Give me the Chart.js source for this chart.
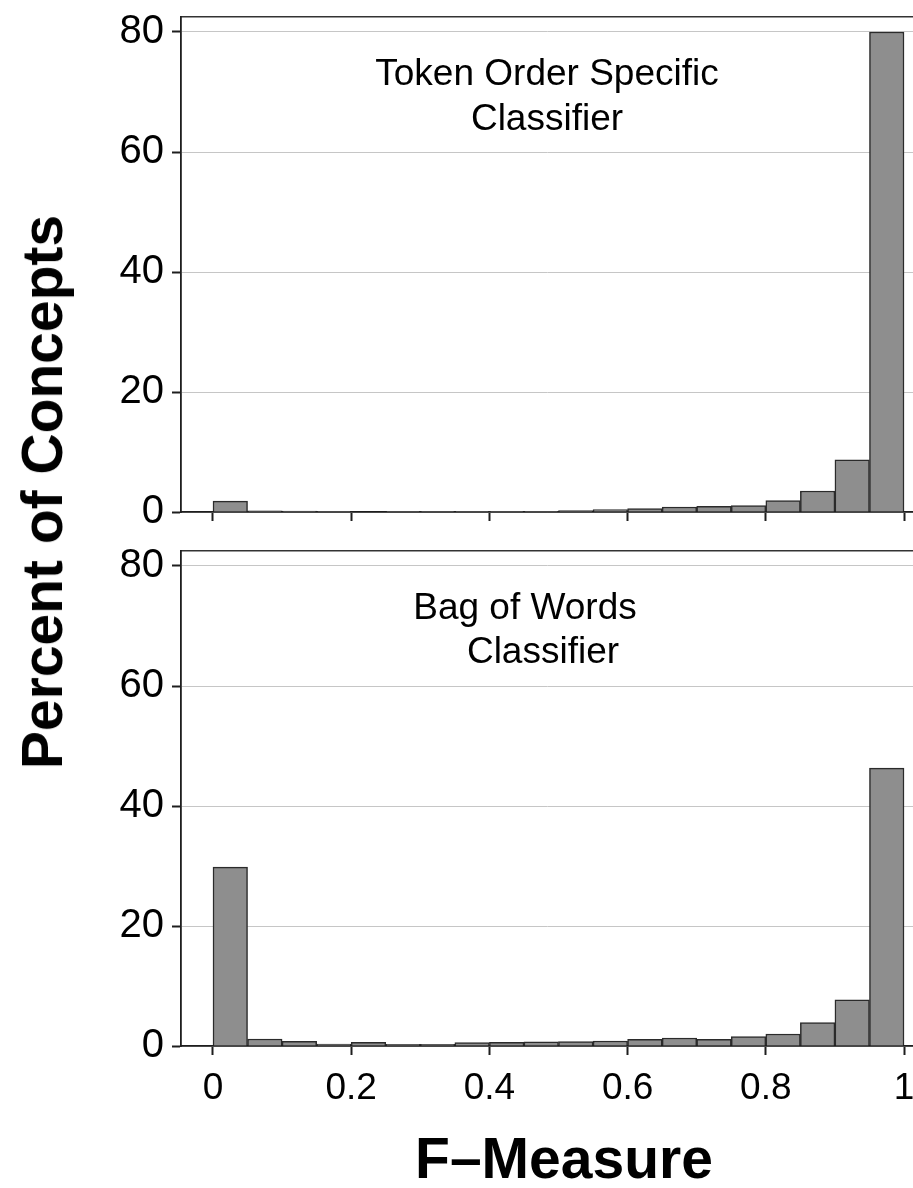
<!DOCTYPE html>
<html>
<head>
<meta charset="utf-8">
<script src="https://cdn.jsdelivr.net/npm/chart.js@4/dist/chart.umd.min.js"></script>
<style>
  html, body { margin: 0; padding: 0; background: #fff; }
  #wrap { position: relative; width: 913px; height: 1188px; overflow: hidden;
          font-family: "Liberation Sans", Arial, Helvetica, sans-serif; color: #000; }
  canvas { position: absolute; left: 0; }
  .cap { position: absolute; font-size: 37px; white-space: nowrap; transform: translate(-50%, -50%); }
  .axtitle { position: absolute; font-size: 57px; font-weight: bold; white-space: nowrap; transform: translate(-50%, -50%); }
</style>
</head>
<body>
<div id="wrap">
  <canvas id="topPanel" width="913" height="530" style="top:0"></canvas>
  <canvas id="bottomPanel" width="913" height="654" style="top:534px"></canvas>

  <div class="cap" style="left:547px; top:73px">Token Order Specific</div>
  <div class="cap" style="left:547px; top:118px">Classifier</div>
  <div class="cap" style="left:525px; top:607px">Bag of Words</div>
  <div class="cap" style="left:543px; top:651px">Classifier</div>

  <div class="axtitle" style="left:42px; top:492px; transform: translate(-50%, -50%) rotate(-90deg)">Percent of Concepts</div>
  <div class="axtitle" style="left:564px; top:1158px">F&#8211;Measure</div>
</div>

<script>
// histogram bins of width 0.05 over the F-measure range, given by their centres
const binCenters = [0.025, 0.075, 0.125, 0.175, 0.225, 0.275, 0.325, 0.375, 0.425, 0.475,
                    0.525, 0.575, 0.625, 0.675, 0.725, 0.775, 0.825, 0.875, 0.925, 0.975];

// percent of concepts per bin
const tokenOrderPct = [1.8, 0.2, 0.15, 0.05, 0, 0.03, 0.02, 0.03, 0.05, 0.1,
                       0.23, 0.4, 0.57, 0.83, 0.95, 1.07, 1.9, 3.5, 8.7, 80];
const bagOfWordsPct = [29.8, 1.17, 0.78, 0.33, 0.6, 0.28, 0.28, 0.55, 0.6, 0.7,
                       0.72, 0.83, 1.1, 1.33, 1.1, 1.56, 2.0, 3.9, 7.7, 46.3];

const xTicks = [0, 0.2, 0.4, 0.6, 0.8, 1];
const yTicks = [0, 20, 40, 60, 80];

const X_MIN = -0.0463, X_MAX = 1.013;
const Y_MAX = 82.5;
const AXIS = "#1e1e1e";
const FONT = "'Liberation Sans', Arial, Helvetica, sans-serif";

function makePanel(canvasId, values, showXLabels, xAxisHeight) {
  const ctx = document.getElementById(canvasId).getContext("2d");
  return new Chart(ctx, {
    type: "bar",
    data: {
      datasets: [{
        data: binCenters.map((x, i) => ({ x: x, y: values[i] })),
        backgroundColor: "#8e8e8e",
        borderColor: "#2b2b2b",
        borderWidth: 1.5,
        barPercentage: 1,
        categoryPercentage: 1
      }]
    },
    options: {
      responsive: false,
      animation: false,
      layout: { padding: { top: 17, left: 0, right: 0, bottom: 0 } },
      plugins: { legend: { display: false }, tooltip: { enabled: false } },
      scales: {
        x: {
          type: "linear",
          min: X_MIN,
          max: X_MAX,
          offset: false,
          afterBuildTicks: (s) => { s.ticks = xTicks.map((v) => ({ value: v })); },
          afterFit: (s) => {
            s.height = xAxisHeight;
            s.paddingLeft = 0; s.paddingRight = 0;
          },
          grid: { drawOnChartArea: false, tickLength: 9, tickColor: AXIS, tickWidth: 2, offset: false },
          border: { color: AXIS, width: 1.8 },
          ticks: {
            display: showXLabels,
            padding: 12,
            color: "#000",
            font: { family: FONT, size: 37 },
            maxRotation: 0,
            callback: (v) => String(v)
          }
        },
        xTop: {
          type: "linear",
          position: "top",
          min: X_MIN,
          max: X_MAX,
          afterFit: (s) => { s.height = 0; s.paddingLeft = 0; s.paddingRight = 0; },
          grid: { display: false, drawTicks: false },
          border: { display: true, color: "#333", width: 1.5 },
          ticks: { display: false }
        },
        y: {
          min: 0,
          max: Y_MAX,
          afterBuildTicks: (s) => { s.ticks = yTicks.map((v) => ({ value: v })); },
          afterFit: (s) => {
            s.width = 181;
            s.paddingTop = 0; s.paddingBottom = 0;
          },
          grid: { color: "#c6c6c6", lineWidth: 1, tickLength: 9, tickColor: AXIS, tickWidth: 2 },
          border: { color: AXIS, width: 1.8 },
          ticks: {
            padding: 8,
            color: "#000",
            font: { family: FONT, size: 40 }
          }
        }
      }
    }
  });
}

makePanel("topPanel", tokenOrderPct, false, 18);
makePanel("bottomPanel", bagOfWordsPct, true, 142);
</script>
</body>
</html>
